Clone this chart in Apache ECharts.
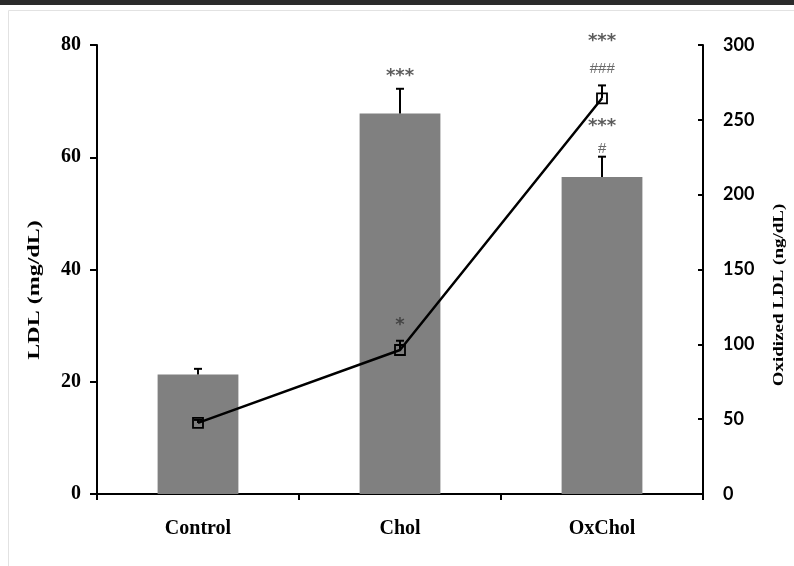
<!DOCTYPE html>
<html>
<head>
<meta charset="utf-8">
<script src="https://cdn.jsdelivr.net/npm/echarts@6/dist/echarts.min.js"></script>
<style>html,body{margin:0;padding:0;background:#fff;}#c{width:794px;height:566px;}</style>
</head>
<body>
<div id="c"></div>
<script>
// ---- data ----
var categories = ['Control', 'Chol', 'OxChol'];
var ldl = [21.3, 67.8, 56.5];          // LDL (mg/dL), bars, left axis
var ldlErr = [1.0, 4.4, 3.6];
var oxLdl = [47.5, 96.2, 264.4];       // Oxidized LDL (ng/dL), line, right axis
var oxLdlErr = [2.0, 6.2, 8.6];
var leftTicks = [0, 20, 40, 60, 80];
var rightTicks = [0, 50, 100, 150, 200, 250, 300];
// significance marks: [category, value on left axis, text]
var annotCats = ['Chol', 'Chol', 'OxChol', 'OxChol', 'OxChol', 'OxChol'];
var annotVals = [75.1, 30.7, 81.4, 76.0, 66.3, 61.6];
var annotTexts = ['***', '*', '***', '###', '***', '#'];

var chart = echarts.init(document.getElementById('c'), null, {renderer: 'canvas'});

function errRender() {
  return function (params, api) {
    var x = api.value(0), v = api.value(1), e = api.value(2);
    var p0 = api.coord([x, v]);
    var p1 = api.coord([x, v + e]);
    var cap = 4;
    return {
      type: 'group',
      children: [
        {type: 'line', shape: {x1: p0[0], y1: p0[1], x2: p1[0], y2: p1[1]}, style: {stroke: '#000', lineWidth: 2}},
        {type: 'line', shape: {x1: p1[0] - cap, y1: p1[1], x2: p1[0] + cap, y2: p1[1]}, style: {stroke: '#000', lineWidth: 2}}
      ]
    };
  };
}

var serif = 'Liberation Serif';
var option = {
  backgroundColor: '#fff',
  animation: false,
  graphic: [
    {type: 'rect', shape: {x: 0, y: 0, width: 794, height: 5}, style: {fill: '#2b2b2b'}, silent: true},
    {type: 'rect', shape: {x: 8.5, y: 10.5, width: 800, height: 600}, style: {fill: 'none', stroke: '#e2e2e2', lineWidth: 1}, silent: true},
    {type: 'text', x: 35, y: 290, rotation: Math.PI / 2, scaleY: 0.72,
     style: {text: 'LDL (mg/dL)', font: 'bold 24px "Liberation Serif"', fill: '#000', align: 'center', verticalAlign: 'middle'}},
    {type: 'text', x: 779, y: 295, rotation: Math.PI / 2, scaleY: 0.78,
     style: {text: 'Oxidized LDL (ng/dL)', font: 'bold 19px "Liberation Serif"', fill: '#000', align: 'center', verticalAlign: 'middle'}}
  ],
  grid: {left: 97, right: 91, top: 45, bottom: 72, containLabel: false},
  xAxis: {
    type: 'category',
    data: categories,
    boundaryGap: true,
    axisLine: {show: true, lineStyle: {color: '#000', width: 2}},
    axisTick: {show: true, length: 6, inside: false, interval: 0, lineStyle: {color: '#000', width: 2}},
    axisLabel: {margin: 25, fontFamily: serif, fontWeight: 'bold', fontSize: 20, color: '#000'},
    splitLine: {show: false}
  },
  yAxis: [
    {
      type: 'value', min: leftTicks[0], max: leftTicks[leftTicks.length - 1], interval: 20,
      position: 'left',
      axisLine: {show: true, lineStyle: {color: '#000', width: 2}},
      axisTick: {show: true, length: 7, inside: false, lineStyle: {color: '#000', width: 2}},
      axisLabel: {margin: 16, fontFamily: serif, fontWeight: 'bold', fontSize: 20, color: '#000'},
      splitLine: {show: false}
    },
    {
      type: 'value', min: rightTicks[0], max: rightTicks[rightTicks.length - 1], interval: 50,
      position: 'right',
      axisLine: {show: true, lineStyle: {color: '#000', width: 2}},
      axisTick: {show: true, length: 5, inside: true, lineStyle: {color: '#000', width: 2}},
      axisLabel: {margin: 20, fontFamily: 'Lato', fontWeight: 'bold', fontSize: 18, color: '#000'},
      splitLine: {show: false}
    }
  ],
  series: [
    {
      type: 'bar', yAxisIndex: 0, data: ldl, barWidth: '40%',
      itemStyle: {color: '#808080'}, z: 2
    },
    {
      type: 'custom', yAxisIndex: 0, z: 3,
      renderItem: errRender(),
      data: ldl.map(function (v, i) { return [i, v, ldlErr[i]]; })
    },
    {
      type: 'line', yAxisIndex: 1, data: oxLdl, z: 5,
      symbol: 'rect', symbolSize: 10,
      lineStyle: {color: '#000', width: 2.5},
      itemStyle: {color: 'rgba(0,0,0,0)', borderColor: '#000', borderWidth: 1.8}
    },
    {
      type: 'custom', yAxisIndex: 1, z: 6,
      renderItem: errRender(),
      data: oxLdl.map(function (v, i) { return [i, v, oxLdlErr[i]]; })
    },
    {
      type: 'scatter', yAxisIndex: 0, z: 7, clip: false,
      symbolSize: 0,
      data: annotCats.map(function (c, i) {
        var t = annotTexts[i];
        var isHash = t.indexOf('#') >= 0;
        return {
          value: [c, annotVals[i], t],
          label: isHash
            ? {fontFamily: 'Liberation Sans', fontStyle: 'italic', fontWeight: 'normal', fontSize: 15, color: '#444', offset: [0, 1]}
            : {fontFamily: 'DejaVu Sans', fontWeight: 'bold', fontSize: 18, offset: [0, 4]}
        };
      }),
      label: {
        show: true, position: 'inside',
        formatter: function (p) { return p.data.value[2]; },
        color: '#333'
      }
    }
  ]
};
chart.setOption(option);
</script>
</body>
</html>
